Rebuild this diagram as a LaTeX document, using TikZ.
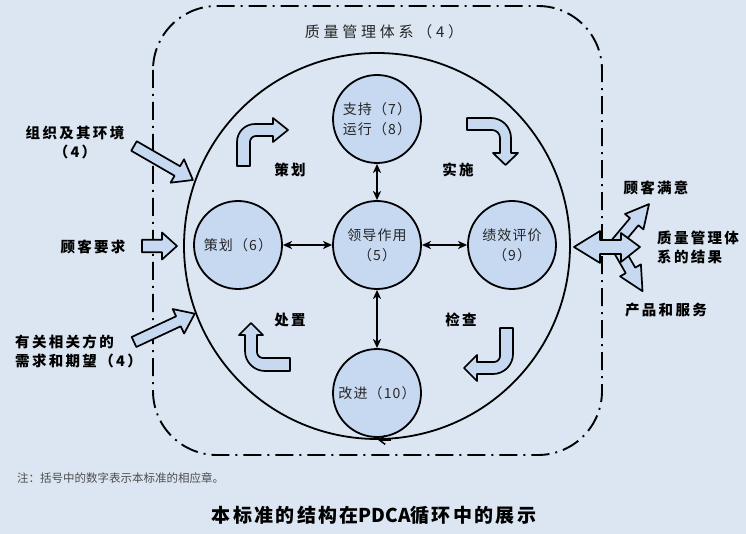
\documentclass[tikz,border=0pt]{standalone}
\usepackage{fontspec}
\setmainfont{Noto Sans CJK SC}
\newfontfamily\fA{Noto Sans CJK SC}[LetterSpace=8]
\newfontfamily\fB{Noto Sans CJK SC}[LetterSpace=16]
\newfontfamily\fC{Noto Sans CJK SC}[LetterSpace=25]
\newfontfamily\fD{Noto Sans CJK SC}[LetterSpace=12]
\usetikzlibrary{arrows.meta}
\definecolor{bg}{HTML}{DCE6F2}
\definecolor{cfill}{HTML}{C6D9F1}
\definecolor{txt}{HTML}{262626}
\definecolor{notegray}{HTML}{4D4D4D}
\newcommand{\blockarr}[7]{%
  \begin{scope}[shift={(#1,#2)},rotate=#3]
    \filldraw[blk] (0,{-(#5)/2}) -- ({#4-#7},{-(#5)/2}) -- ({#4-#7},{-(#6)/2}) -- (#4,0) -- ({#4-#7},{(#6)/2}) -- ({#4-#7},{(#5)/2}) -- (0,{(#5)/2}) -- cycle;
  \end{scope}}
\begin{document}
\begin{tikzpicture}[x=1pt,y=-1pt,
  every node/.style={inner sep=0pt},
  ring/.style={circle, draw, line width=1.8pt, fill=cfill, minimum size=88pt, inner sep=0pt, align=center, text=txt, font=\fA\fontsize{14}{20}\selectfont},
  blk/.style={draw, line width=1.7pt, fill=cfill, line join=round},
  dbl/.style={{Stealth[length=9pt,width=8pt,inset=2.5pt]}-{Stealth[length=9pt,width=8pt,inset=2.5pt]}, line width=1.6pt},
  lbl/.style={font=\fB\bfseries\fontsize{14.5}{19}\selectfont, text=black, align=left},
  ]
\useasboundingbox (0,0) rectangle (746,534);
\fill[bg] (0,0) rectangle (746,534);

% system boundary
\draw[line width=1.9pt, dash pattern=on 18pt off 6pt on 2pt off 6pt, rounded corners=64pt] (153,6) rectangle (602,455);

% big PDCA circle
\node[circle, draw, line width=1.8pt, minimum size=386pt] (pdca) at (377,246) {};

% inner circles
\node[ring] (sup) at (377,119) {支持（7）\\运行（8）};
\node[ring] (plan) at (238,245) {策划（6）};
\node[ring] (lead) at (377,245) {领导作用\\（5）};
\node[ring] (eval) at (512,245) {绩效评价\\（9）};
\node[ring] (imp) at (377,393) {改进（10）};

\coordinate (cw) at ([xshift=14pt]pdca.south);
\draw[-{Straight Barb[length=6pt,width=9pt,line width=1.5pt]}, line width=1.5pt] (cw) -- ([xshift=1pt]pdca.south);

\draw[dbl] (lead) -- (plan);
\draw[dbl] (lead) -- (eval);
\draw[dbl] (lead) -- (sup);
\draw[dbl] (lead) -- (imp);

% bent arrows
\filldraw[blk] (237,166) -- (237,142) .. controls (237,132) and (245,124) .. (255,124) -- (273,124) -- (273,118) -- (288,130) -- (273,142) -- (273,136) -- (256,136) .. controls (252.7,136) and (250,138.7) .. (250,142) -- (250,166) -- cycle;
\filldraw[blk] (467,118) -- (491,118) .. controls (502,118) and (511,127) .. (511,138) -- (511,153) -- (518,153) -- (505.5,165) -- (493,153) -- (500,153) -- (500,138) .. controls (500,133.6) and (496.4,130) .. (492,130) -- (467,130) -- cycle;
\filldraw[blk] (290,358) -- (263,358) .. controls (259.7,358) and (257,355.3) .. (257,352) -- (257,335) -- (263,335) -- (251,323) -- (239,335) -- (245,335) -- (245,351) .. controls (245,362) and (254,371) .. (265,371) -- (290,371) -- cycle;
\filldraw[blk] (500,328) -- (513,328) -- (513,354) .. controls (513,365) and (504,374) .. (493,374) -- (477,374) -- (477,381) -- (464,368) -- (477,355) -- (477,362) -- (494,362) .. controls (497.3,362) and (500,359.3) .. (500,356) -- cycle;

% input arrows
\blockarr{134}{146}{-30}{68}{11}{27}{18}
\blockarr{142}{246}{0}{35}{12.5}{27}{15}
\blockarr{134}{342}{25}{67}{11}{27}{18}

% output arrows
\blockarr{613}{247}{50}{56}{11}{24}{23}
\blockarr{617}{247}{-60}{51}{11}{24}{24}
\filldraw[blk] (574,247) -- (600,231) -- (600,240) -- (621,240) -- (621,233) -- (640,247) -- (621,262) -- (621,254) -- (600,254) -- (600,263) -- cycle;

% PDCA labels
\node[lbl] (lplan) at (290,170) {策划};
\node[lbl] (ldo) at (458,170) {实施};
\node[lbl] (lact) at (290,320) {处置};
\node[lbl] (lcheck) at (461,320) {检查};

% system title
\node[font=\fC\fontsize{15}{18}\selectfont, text=txt] (title) at (384,32) {质量管理体系（4）};

% inputs
\node[lbl, align=center] (in1) at (75,142) {组织及其环境\\（4）};
\node[lbl] (in2) at (93,247) {顾客要求};
\node[lbl, anchor=west] (in3) at (15,351) {有关相关方的\\需求和期望（4）};

% outputs
\node[lbl] (out1) at (656,188) {顾客满意};
\node[lbl, anchor=west] (out2) at (657,247) {质量管理体\\系的结果};
\node[lbl] (out3) at (666,310) {产品和服务};

% note and caption
\node[font=\fontsize{11.5}{14}\selectfont, text=notegray, anchor=west] (note) at (17,478) {注：括号中的数字表示本标准的相应章。};
\node[font=\fD\bfseries\fontsize{19}{22}\selectfont, text=black] (cap) at (374,515) {本标准的结构在{\setmainfont{Noto Sans CJK SC}\normalfont\bfseries\fontsize{19}{22}\selectfont PDCA}循环中的展示};
\end{tikzpicture}
\end{document}
